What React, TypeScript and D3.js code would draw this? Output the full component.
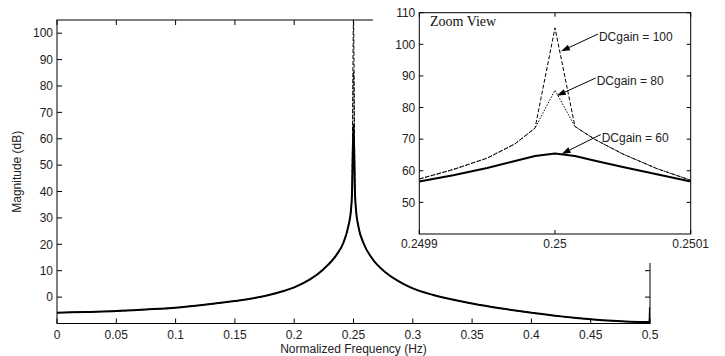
import React from "react";
import * as d3 from "d3";

// main plot: normalized frequency vs magnitude (dB)
const mainFreq = [
  0, 0.025, 0.05, 0.075, 0.1, 0.126, 0.15, 0.177, 0.191, 0.2, 0.2133, 0.2245,
  0.2358, 0.2414, 0.2456, 0.2479, 0.2487, 0.25, 0.2513, 0.2521, 0.2541, 0.2583,
  0.2653, 0.278, 0.292, 0.3, 0.3173, 0.35, 0.375, 0.4, 0.425, 0.45, 0.483, 0.4995, 0.5,
];
// value at 0.25 is the resonance peak, different per DC gain (see seriesPeak)
const mainMag = [
  -5.9, -5.6, -5.3, -4.7, -4.0, -2.8, -1.5, 0.6, 2.3, 3.7, 6.7, 10.5,
  16.1, 20.5, 26.8, 33.1, 38.8, null, 38.8, 33.1, 26.8, 20.6,
  14.9, 9.0, 5.0, 3.3, 0.8, -2.4, -4.3, -5.9, -7.3, -8.4, -9.3, -9.4, -3.9,
];
const seriesNames = ["DCgain = 60", "DCgain = 80", "DCgain = 100"];
const seriesPeak = [65.3, 85.5, 105.2];

// zoom view around 0.25
const insetFreq = [
  0.2499, 0.249925, 0.24995, 0.2499705, 0.2499853, 0.25, 0.2500147, 0.2500295,
  0.25005, 0.250075, 0.2501,
];
const inset60 = [56.6, 58.6, 60.9, 63.1, 64.7, 65.5, 64.7, 63.2, 61.2, 58.9, 56.6];
const inset80 = [57.4, 60.4, 64.0, 68.5, 73.5, 85.5, 74.0, 69.9, 65.3, 60.7, 57.0];
const inset100 = [57.4, 60.4, 64.0, 68.5, 73.5, 105.2, 74.0, 69.9, 65.3, 60.7, 57.0];

// annotation: text anchor and arrow tip, in zoom-view data coords
const noteText = ["DCgain = 100", "DCgain = 80", "DCgain = 60"];
const noteTextF = [0.2500324, 0.2500307, 0.2500344];
const noteTextDb = [102.3, 88.4, 70.5];
const noteTipF = [0.2500044, 0.2500013, 0.2500049];
const noteTipDb = [97.8, 83.7, 65.3];

const mainXTicks = [0, 0.05, 0.1, 0.15, 0.2, 0.25, 0.3, 0.35, 0.4, 0.45, 0.5];
const mainYTicks = [0, 10, 20, 30, 40, 50, 60, 70, 80, 90, 100];
const insetXTicks = [0.2499, 0.25, 0.2501];
const insetYTicks = [50, 60, 70, 80, 90, 100, 110];

const W = 725;
const H = 356;
const FONT = "'Liberation Sans', Arial, sans-serif";
const TXT = "#222";

const m = { l: 57, r: 650, t: 20, b: 323.5 };
const z = { l: 419.3, r: 690.7, t: 12.7, b: 234 };

const styles = [
  { w: 2, dash: "none" },
  { w: 1, dash: "1.5,1.5" },
  { w: 1, dash: "4,2" },
];

export default function App() {
  const x = d3.scaleLinear().domain([0, 0.5]).range([m.l, m.r]);
  const y = d3.scaleLinear().domain([-10, 105]).range([m.b, m.t]);
  const xi = d3.scaleLinear().domain([0.2499, 0.2501]).range([z.l, z.r]);
  const yi = d3.scaleLinear().domain([40, 110]).range([z.b, z.t]);

  const mainLine = d3
    .line<[number, number]>()
    .x((d) => x(d[0]))
    .y((d) => y(d[1]))
    .curve(d3.curveMonotoneX);
  const insetLine = d3
    .line<[number, number]>()
    .x((d) => xi(d[0]))
    .y((d) => yi(d[1]));

  const mainSeries = seriesPeak.map((pk) =>
    mainFreq.map((f, i) => [f, mainMag[i] == null ? pk : (mainMag[i] as number)] as [number, number])
  );
  const insetSeries = [inset60, inset80, inset100].map((vals) =>
    insetFreq.map((f, i) => [f, vals[i]] as [number, number])
  );

  const arrows = noteText.map((t, i) => {
    const sx = xi(noteTextF[i]) - 1;
    const sy = yi(noteTextDb[i]) - 3;
    const tx = xi(noteTipF[i]);
    const ty = yi(noteTipDb[i]);
    const ang = Math.atan2(ty - sy, tx - sx);
    const len = 9;
    const hw = 3;
    const bx = tx - len * Math.cos(ang);
    const by = ty - len * Math.sin(ang);
    const px = -Math.sin(ang) * hw;
    const py = Math.cos(ang) * hw;
    return {
      t,
      tx0: xi(noteTextF[i]),
      ty0: yi(noteTextDb[i]),
      line: [sx, sy, bx, by],
      head: `${tx},${ty} ${bx + px},${by + py} ${bx - px},${by - py}`,
    };
  });

  return (
    <svg
      width={W}
      height={H}
      style={{ position: "absolute", left: 0, top: 0, background: "#fff" }}
    >
      <defs>
        <clipPath id="mainClip">
          <rect x={m.l} y={m.t} width={m.r - m.l} height={m.b - m.t} />
        </clipPath>
        <clipPath id="insetClip">
          <rect x={z.l} y={z.t} width={z.r - z.l} height={z.b - z.t} />
        </clipPath>
      </defs>

      {/* main axes */}
      <rect x={m.l} y={m.t} width={m.r - m.l} height={m.b - m.t} fill="none" stroke="#000" strokeWidth={1} />
      {mainXTicks.map((v) => (
        <g key={"mx" + v}>
          <line x1={x(v)} x2={x(v)} y1={m.b} y2={m.b - 5} stroke="#000" />
          <line x1={x(v)} x2={x(v)} y1={m.t} y2={m.t + 5} stroke="#000" />
          <text x={x(v)} y={338.5} textAnchor="middle" fontFamily={FONT} fontSize={12} fill={TXT}>
            {String(v)}
          </text>
        </g>
      ))}
      {mainYTicks.map((v) => (
        <g key={"my" + v}>
          <line x1={m.l} x2={m.l + 5} y1={y(v)} y2={y(v)} stroke="#000" />
          <line x1={m.r} x2={m.r - 5} y1={y(v)} y2={y(v)} stroke="#000" />
          <text x={m.l - 4} y={y(v)} dy="0.35em" textAnchor="end" fontFamily={FONT} fontSize={12} fill={TXT}>
            {v}
          </text>
        </g>
      ))}

      {/* zoom view backdrop hides the top-right part of the main frame */}
      <rect x={373} y={0} width={W - 373} height={249} fill="#fff" />
      <rect x={640} y={0} width={W - 640} height={263} fill="#fff" />

      <g clipPath="url(#mainClip)">
        {mainSeries.map((s, i) => (
          <path
            key={"ms" + i}
            d={mainLine(s) || ""}
            fill="none"
            stroke="#000"
            strokeWidth={styles[i].w}
            strokeDasharray={styles[i].dash}
          />
        ))}
      </g>
      <text x={(m.l + m.r) / 2} y={353} textAnchor="middle" fontFamily={FONT} fontSize={12} fill={TXT}>
        Normalized Frequency (Hz)
      </text>
      <text
        transform={`translate(21,${(m.t + m.b) / 2}) rotate(-90)`}
        textAnchor="middle"
        fontFamily={FONT}
        fontSize={12}
        fill={TXT}
      >
        Magnitude (dB)
      </text>

      {/* zoom view */}
      <rect x={z.l} y={z.t} width={z.r - z.l} height={z.b - z.t} fill="#fff" stroke="#000" strokeWidth={1} />
      {insetXTicks.map((v) => (
        <g key={"ix" + v}>
          <line x1={xi(v)} x2={xi(v)} y1={z.b} y2={z.b - 4} stroke="#000" />
          <line x1={xi(v)} x2={xi(v)} y1={z.t} y2={z.t + 4} stroke="#000" />
          <text x={xi(v)} y={248} textAnchor="middle" fontFamily={FONT} fontSize={12} fill={TXT}>
            {String(v)}
          </text>
        </g>
      ))}
      {insetYTicks.map((v) => (
        <g key={"iy" + v}>
          <line x1={z.l} x2={z.l + 4} y1={yi(v)} y2={yi(v)} stroke="#000" />
          <line x1={z.r} x2={z.r - 4} y1={yi(v)} y2={yi(v)} stroke="#000" />
          <text x={z.l - 4} y={yi(v)} dy="0.35em" textAnchor="end" fontFamily={FONT} fontSize={12} fill={TXT}>
            {v}
          </text>
        </g>
      ))}
      <g clipPath="url(#insetClip)">
        {insetSeries.map((s, i) => (
          <path
            key={"is" + i}
            d={insetLine(s) || ""}
            fill="none"
            stroke="#000"
            strokeWidth={styles[i].w}
            strokeDasharray={styles[i].dash}
          />
        ))}
      </g>
      <text x={430} y={26} fontFamily="'Liberation Serif', 'Times New Roman', serif" fontSize={14} fill="#111">
        Zoom View
      </text>
      {arrows.map((a) => (
        <g key={a.t}>
          <line x1={a.line[0]} y1={a.line[1]} x2={a.line[2]} y2={a.line[3]} stroke="#000" strokeWidth={1} />
          <polygon points={a.head} fill="#000" />
          <text x={a.tx0} y={a.ty0} dy="0.35em" fontFamily={FONT} fontSize={12} fill={TXT}>
            {a.t}
          </text>
        </g>
      ))}
    </svg>
  );
}
